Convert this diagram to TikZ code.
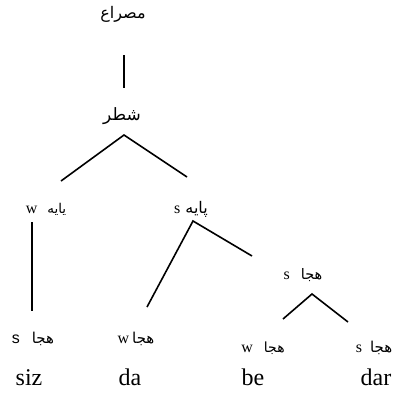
\documentclass[tikz,border=0pt]{standalone}
\usepackage{fontspec}
\setmainfont{Liberation Serif}
\newfontfamily\arabicfont[Script=Arabic]{DejaVu Sans}
\newfontfamily\latinsans{Liberation Sans}
\TeXXeTstate=1
\newcommand{\ar}[2]{{\fontsize{#1}{#1}\arabicfont\beginR #2\endR}}
\usetikzlibrary{positioning}

\begin{document}
\begin{tikzpicture}[x=1pt,y=-1pt,line width=1.6pt,
  every node/.style={inner sep=0pt,anchor=base},
  tag/.style={font=\fontsize{16}{18}\selectfont},
  word/.style={font=\fontsize{24}{28}\selectfont}]
  \useasboundingbox (0,0) rectangle (392,399);
  % labels
  \node (misra) at (123,18) {\ar{16}{مصراع}};
  \node (shatr) at (122,120) {\ar{17}{شطر}};
  \node[tag] (payeW) at (46,213) {w\hspace{10pt}\ar{13.5}{يايه}};
  \node[tag] (payeS) at (191,213) {s\hspace{5pt}\ar{16}{پايه}};
  \node[tag] (hejaS) at (303,279) {s\hspace{11pt}\ar{14.5}{هجا}};
  \node[tag] (h1) at (33,343) {{\latinsans s}\hspace{12pt}\ar{15}{هجا}};
  \node[tag] (h2) at (136,343) {w\hspace{3pt}\ar{15}{هجا}};
  \node[tag] (h3) at (263,352) {w\hspace{11pt}\ar{14}{هجا}};
  \node[tag] (h4) at (374,352) {s\hspace{8pt}\ar{15}{هجا}};
  \node[word] (siz) at (29,385) {siz};
  \node[word] (da)  at (130,385) {da};
  \node[word] (be)  at (253,385) {be};
  \node[word] (dar) at (376,385) {dar};
  % joints
  \coordinate (misraB) at (124,55);
  \coordinate (shatrT) at (124,88);
  \coordinate (shatrB) at (124,135);
  \coordinate (payeWT) at (61,181);
  \coordinate (payeST) at (187,177);
  \coordinate (payeWB) at (32,222);
  \coordinate (h1T) at (32,311);
  \coordinate (payeSB) at (193,221);
  \coordinate (h2T) at (147,307);
  \coordinate (hejaST) at (252,256);
  \coordinate (hejaSB) at (312,294);
  \coordinate (h3T) at (283,319);
  \coordinate (h4T) at (348,322);
  % tree
  \draw (misraB) -- (shatrT);
  \draw (payeWT) -- (shatrB) -- (payeST);
  \draw (payeWB) -- (h1T);
  \draw (h2T) -- (payeSB) -- (hejaST);
  \draw (h3T) -- (hejaSB) -- (h4T);
\end{tikzpicture}
\end{document}
